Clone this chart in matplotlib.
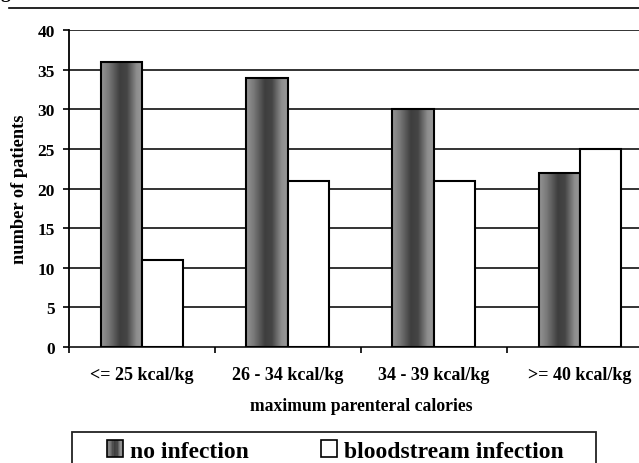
import numpy as np
import matplotlib
matplotlib.use("Agg")
import matplotlib.pyplot as plt
from matplotlib.patches import Rectangle
from matplotlib.lines import Line2D
from matplotlib.legend_handler import HandlerBase
from matplotlib.colors import LinearSegmentedColormap

categories = ["<= 25 kcal/kg", "26 - 34 kcal/kg", "34 - 39 kcal/kg", ">= 40 kcal/kg"]
no_infection = [36, 34, 30, 22]
bloodstream = [11, 21, 21, 25]
series_names = ["no infection", "bloodstream infection"]
yticks = [0, 5, 10, 15, 20, 25, 30, 35, 40]

plt.rcParams['font.family'] = ['Liberation Serif', 'DejaVu Serif']
plt.rcParams['font.weight'] = 'bold'

W, H = 639, 464
fig = plt.figure(figsize=(W / 100, H / 100), dpi=100)
ax = fig.add_axes([69 / W, (464 - 348) / H, 584 / W, (348 - 31) / H])

grad_cmap = LinearSegmentedColormap.from_list(
    "bargrad",
    [(0.0, "#959595"), (0.18, "#7a7a7a"), (0.45, "#3e3e3e"), (0.62, "#454545"),
     (0.85, "#8e8e8e"), (1.0, "#999999")])

bw = 41.5 / 146
x = np.arange(len(categories)) + 0.5

for g in [5, 10, 15, 20, 25, 30, 35, 40]:
    ax.axhline(g, color="#333333", lw=1.4, zorder=1)

bars1 = ax.bar(x - bw / 2, no_infection, width=bw, facecolor="none",
               edgecolor="black", linewidth=1.5, zorder=4)
bars2 = ax.bar(x + bw / 2, bloodstream, width=bw, facecolor="white",
               edgecolor="black", linewidth=1.5, zorder=4)

grad = np.linspace(0, 1, 256).reshape(1, -1)
for b in bars1:
    x0, y0 = b.get_x(), b.get_y()
    w, h = b.get_width(), b.get_height()
    im = ax.imshow(grad, cmap=grad_cmap, aspect="auto",
                   extent=[x0, x0 + w, y0, y0 + h], zorder=3, interpolation="bilinear")
    clip = Rectangle((x0, y0), w, h, transform=ax.transData)
    im.set_clip_path(clip)

ax.set_xlim(0, 4)
ax.set_ylim(0, 40)
ax.set_yticks(yticks)
ax.set_yticklabels([str(v) for v in yticks], fontsize=12.5, fontweight="bold")
ax.set_xticks([0, 1, 2, 3, 4])
ax.set_xticklabels([])
ax.set_xticks(x, minor=True)
ax.set_xticklabels(categories, minor=True, fontsize=13, fontweight="bold")
ax.tick_params(axis="x", which="minor", length=0, pad=14)
ax.tick_params(axis="x", which="major", length=4, width=1.2, direction="out")
ax.tick_params(axis="y", length=4.3, width=1.2, direction="out", pad=6)
for s in ["top", "right"]:
    ax.spines[s].set_visible(False)
ax.spines["left"].set_linewidth(1.3)
ax.spines["bottom"].set_linewidth(1.3)
ax.spines["bottom"].set_color("#222222")
ax.set_xlabel("maximum parenteral calories", fontsize=12.7, fontweight="bold", labelpad=10)
ax.set_ylabel("number of patients", fontsize=13.2, fontweight="bold", labelpad=7)
ax.set_axisbelow(False)


class GradHandler(HandlerBase):
    def create_artists(self, legend, orig_handle, xdescent, ydescent, width, height,
                       fontsize, trans):
        arts = []
        n = 12
        side = height
        x0 = -xdescent + (width - side) / 2
        y0 = -ydescent + (height - side) / 2
        for i in range(n):
            c = grad_cmap((i + 0.5) / n)
            r = Rectangle((x0 + side * i / n, y0), side / n, side, facecolor=c,
                          edgecolor="none", transform=trans)
            arts.append(r)
        arts.append(Rectangle((x0, y0), side, side, facecolor="none", edgecolor="black",
                              lw=1.2, transform=trans))
        return arts


class SquareHandler(HandlerBase):
    def create_artists(self, legend, orig_handle, xdescent, ydescent, width, height,
                       fontsize, trans):
        side = height
        x0 = -xdescent + (width - side) / 2
        y0 = -ydescent + (height - side) / 2
        return [Rectangle((x0, y0), side, side, facecolor="white", edgecolor="black",
                          lw=1.2, transform=trans)]


h1 = Rectangle((0, 0), 1, 1)
h2 = Rectangle((0, 0), 1, 1, facecolor="white")
leg = fig.legend([h1, h2], series_names, ncol=2, loc="center left",
                 bbox_to_anchor=(107 / W, 1 - 452 / H),
                 handler_map={h1: GradHandler(), h2: SquareHandler()},
                 prop={"family": "Liberation Serif", "weight": "bold", "size": 17},
                 frameon=False, borderpad=0,
                 handlelength=0.68, handleheight=0.68, handletextpad=0.3,
                 borderaxespad=0, columnspacing=3.05)

fig.add_artist(Rectangle((72 / W, -0.1), 524 / W, (464 - 433) / H + 0.1,
                         transform=fig.transFigure, facecolor="none",
                         edgecolor="#222222", lw=1.3))
fig.add_artist(Line2D([9 / W, 1], [1 - 9 / H, 1 - 9 / H], color="black", lw=1.2,
                      transform=fig.transFigure))
fig.text(10 / W, 1 + 2 / H, "g", ha="right", va="baseline", fontsize=14, fontweight="bold")

fig.savefig("out.png", dpi=100)
